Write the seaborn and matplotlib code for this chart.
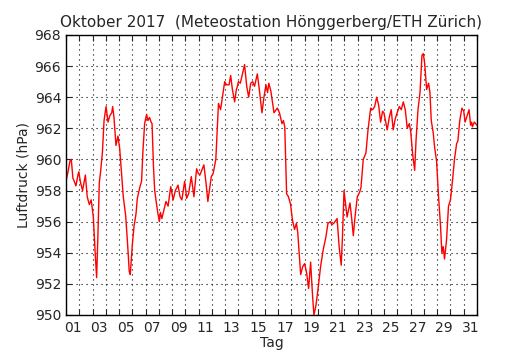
import matplotlib
matplotlib.use("Agg")
import matplotlib.pyplot as plt
import seaborn as sns
import pandas as pd
import numpy as np
from matplotlib.ticker import FixedLocator, NullFormatter, FixedFormatter

# time in days (1.0 = 1 Oct 00:00, 32.0 = 1 Nov 00:00)
day = [1.00, 1.15, 1.30, 1.40, 1.52, 1.62, 1.75, 1.90, 1.96, 2.10, 2.25, 2.46, 2.60, 2.76, 2.90,
       3.06, 3.20, 3.31, 3.42, 3.51, 3.62, 3.75, 3.87, 4.02, 4.17, 4.30, 4.45, 4.52, 4.62, 4.77,
       4.92, 5.05, 5.20, 5.32, 5.50, 5.65, 5.77, 5.85, 6.00, 6.13, 6.28, 6.38, 6.58, 6.70, 6.80,
       6.93, 7.08, 7.18, 7.30, 7.42, 7.49, 7.60, 7.69, 7.89, 8.04, 8.12, 8.23, 8.40, 8.54, 8.70,
       8.90, 9.08, 9.25, 9.45, 9.60, 9.74, 9.95, 10.10, 10.25, 10.45, 10.65, 10.85, 10.98, 11.10,
       11.40, 11.56, 11.70, 11.96, 12.10, 12.30, 12.50, 12.66, 12.80, 12.97, 13.10, 13.30, 13.42,
       13.55, 13.72, 13.85, 13.93, 14.00, 14.15, 14.47, 14.63, 14.78, 14.93, 15.08, 15.22, 15.43,
       15.58, 15.78, 15.93, 16.08, 16.20, 16.30, 16.45, 16.69, 16.94, 17.10, 17.29, 17.40, 17.50,
       17.64, 17.78, 17.94, 18.08, 18.24, 18.38, 18.48, 18.70, 18.85, 19.00, 19.15, 19.30, 19.45,
       19.60, 19.70, 19.85, 20.00, 20.20, 20.40, 20.60, 20.76, 20.95, 21.05, 21.20, 21.45, 21.60,
       21.76, 21.85, 21.97, 22.20, 22.42, 22.55, 22.67, 22.80, 22.97, 23.15, 23.25, 23.42, 23.62,
       23.78, 23.98, 24.13, 24.28, 24.43, 24.58, 24.73, 24.88, 24.98, 25.23, 25.38, 25.53, 25.68,
       25.83, 25.98, 26.14, 26.29, 26.44, 26.59, 26.74, 26.89, 27.00, 27.15, 27.30, 27.40, 27.55,
       27.70, 27.85, 27.95, 28.05, 28.20, 28.35, 28.45, 28.55, 28.70, 28.80, 28.95, 29.10, 29.25,
       29.35, 29.45, 29.55, 29.70, 29.85, 30.00, 30.16, 30.30, 30.46, 30.56, 30.70, 30.86, 31.00,
       31.10, 31.25, 31.40, 31.52, 31.60, 31.65, 31.80, 32.00]

pressure = [958.6, 959.2, 959.9, 960.0, 958.8, 958.6, 958.3, 959.0, 959.2, 958.5, 958.0, 959.0, 957.6, 957.1, 957.4,
            956.3, 954.0, 952.4, 955.5, 958.5, 959.3, 960.5, 962.5, 963.4, 962.4, 962.8, 963.0, 963.4, 962.7, 960.9,
            961.5, 960.7, 959.0, 957.6, 956.4, 954.5, 952.8, 952.6, 954.5, 955.7, 956.5, 957.5, 958.25, 958.6, 960.5,
            962.3, 962.9, 962.5, 962.7, 962.4, 962.3, 959.5, 958.0, 956.75, 956.0, 956.6, 956.2, 956.8, 957.3, 957.0,
            958.25, 957.4, 958.0, 958.35, 957.6, 957.4, 958.6, 957.5, 957.8, 958.9, 957.6, 959.4, 959.1, 959.0,
            959.65, 958.5, 957.3, 958.9, 959.1, 960.0, 963.6, 963.2, 964.0, 965.0, 964.8, 964.8, 965.4,
            964.5, 963.7, 964.5, 964.7, 965.0, 964.9, 966.1, 964.7, 964.0, 964.9, 965.0, 964.7, 965.5,
            964.5, 963.0, 964.0, 964.8, 964.3, 964.9, 964.4, 963.0, 963.3, 963.0, 962.3, 962.5, 962.1,
            957.8, 957.6, 957.1, 956.1, 955.5, 955.9, 955.3, 952.6, 953.1, 953.3, 952.7, 951.7, 953.4,
            951.2, 950.0, 950.6, 951.6, 953.1, 954.2, 955.0, 955.9, 956.0, 955.8, 955.9, 956.2, 954.4,
            953.2, 955.0, 958.0, 956.3, 957.2, 956.2, 955.1, 956.3, 957.6, 957.9, 958.2, 960.0, 960.4,
            961.9, 963.3, 963.2, 963.4, 964.0, 963.5, 962.4, 963.1, 963.0, 961.9, 962.7, 963.2, 961.9,
            962.6, 963.0, 963.4, 963.2, 963.7, 963.2, 962.0, 962.3, 961.8, 960.3, 959.3, 961.2, 963.2,
            964.3, 966.7, 966.8, 966.2, 964.5, 964.9, 964.3, 962.5, 961.7, 960.8, 959.9, 957.6, 955.7,
            954.0, 954.4, 953.6, 954.8, 957.0, 957.4, 958.7, 960.0, 961.0, 961.2, 962.5, 963.3, 963.1,
            962.4, 962.8, 963.2, 962.2, 962.4, 962.1, 962.4, 962.2]

day_labels = ["01", "03", "05", "07", "09", "11", "13", "15", "17", "19", "21", "23", "25", "27", "29", "31"]
y_ticks = [950, 952, 954, 956, 958, 960, 962, 964, 966, 968]

sns.set_style("white")
plt.rcParams['font.family'] = ['DejaVu Sans']

df = pd.DataFrame({"Tag": day, "Luftdruck": pressure})

fig = plt.figure(figsize=(5.3, 3.5), dpi=100)
ax = fig.add_axes([66/530, 35/350, 411/530, 280/350])

sns.lineplot(data=df, x="Tag", y="Luftdruck", ax=ax, color="red", linewidth=1.0)

ax.set_xlim(1, 32)
ax.set_ylim(950, 968)

# major ticks at day boundaries (grid), labels at noon of odd days
ax.xaxis.set_major_locator(FixedLocator(np.arange(1, 33)))
ax.xaxis.set_major_formatter(NullFormatter())
label_pos = [int(s) + 0.5 for s in day_labels]
ax.xaxis.set_minor_locator(FixedLocator(label_pos))
ax.xaxis.set_minor_formatter(FixedFormatter(day_labels))
ax.tick_params(axis='x', which='minor', length=0, labelsize=10, pad=4)
ax.tick_params(axis='x', which='major', length=4, direction='in', top=True, bottom=True)

ax.set_yticks(y_ticks)
ax.set_yticklabels([str(v) for v in y_ticks])
ax.tick_params(axis='y', which='major', length=4, direction='in', left=True, right=True, labelsize=10)

ax.grid(True, which='major', color='black', linestyle=(0, (1, 3.5)), linewidth=0.8)

for s in ax.spines.values():
    s.set_visible(True)
    s.set_color('black')
    s.set_linewidth(1.0)

ax.set_xlabel("Tag", fontsize=10, labelpad=1)
ax.set_ylabel("Luftdruck (hPa)", fontsize=10, labelpad=3)
ax.set_title("Oktober 2017  (Meteostation Hönggerberg/ETH Zürich)", fontsize=11, pad=6)

fig.savefig("out.png", dpi=100)
